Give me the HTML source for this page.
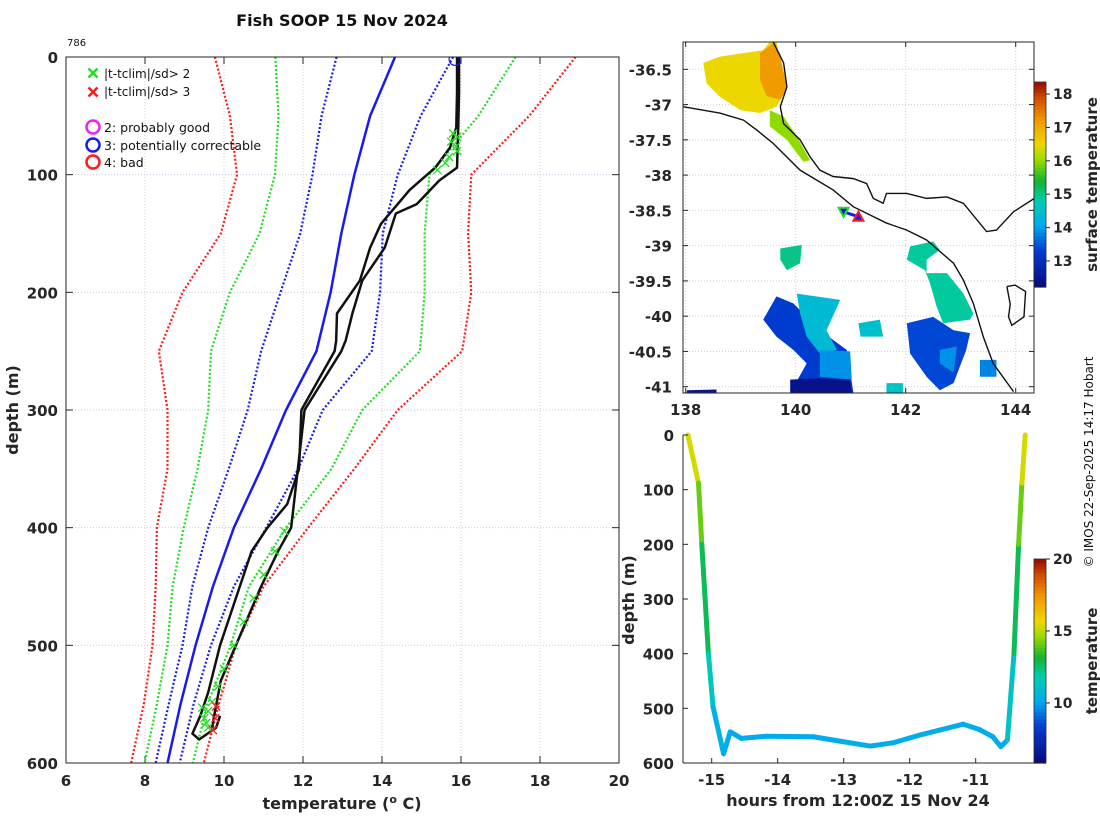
<!DOCTYPE html>
<html><head><meta charset="utf-8"><style>
html,body{margin:0;padding:0;background:#fff;}
svg{display:block;font-family:"DejaVu Sans","Liberation Sans",sans-serif;}
.tk{font-size:15px;font-weight:bold;fill:#262626;}
</style></head><body>
<svg id="fig" width="1100" height="820" viewBox="0 0 1100 820" xmlns="http://www.w3.org/2000/svg">
<defs>
<clipPath id="cpMain"><rect x="66" y="57" width="553" height="706"/></clipPath>
<clipPath id="cpMap"><rect x="683" y="42" width="351" height="351"/></clipPath>
</defs>
<g id="main"></g>
<g id="map"></g>
<g id="tim"></g>
<text x="342" y="26" text-anchor="middle" style="font-size:16px;font-weight:bold" fill="#111">Fish SOOP 15 Nov 2024</text>
<text x="67" y="46" style="font-size:10px" fill="#111">786</text>
<text transform="translate(18,410) rotate(-90)" text-anchor="middle" class="tk" style="font-size:16px">depth (m)</text>
<text x="342" y="809" text-anchor="middle" class="tk" style="font-size:16px">temperature (<tspan dy="-6" style="font-size:11px">o</tspan><tspan dy="6"> C)</tspan></text>
<text transform="translate(1093,462) rotate(-90)" text-anchor="middle" style="font-size:12px" fill="#111">© IMOS 22-Sep-2025 14:17 Hobart</text>
</svg>
<script>
// ===== main profile chart data =====
const climDepths=[0,50,100,150,200,250,300,350,400,450,500,550,600];
const climMean  =[14.33,13.7,13.3,12.97,12.7,12.34,11.57,10.94,10.25,9.72,9.28,8.9,8.57];
const clim1Lo   =[12.85,12.47,12.24,11.93,11.43,10.94,10.6,10.12,9.6,9.2,8.95,8.6,8.27];
const clim1Hi   =[15.8,14.98,14.4,14.02,13.95,13.74,12.5,11.88,11.07,10.25,9.67,9.23,8.88];
const clim2Lo   =[11.3,11.38,11.29,10.9,10.15,9.67,9.6,9.33,8.98,8.7,8.57,8.3,7.99];
const clim2Hi   =[17.38,16.44,15.2,15.08,15.08,14.96,13.5,12.72,11.57,10.63,10.17,9.58,9.21];
const clim3Lo   =[9.77,10.15,10.33,9.92,8.95,8.35,8.57,8.57,8.3,8.27,8.19,7.97,7.65];
const clim3Hi   =[18.9,17.73,16.26,16.18,16.26,16.03,14.4,13.3,12.13,11.0,10.3,9.87,9.49];
const castADepth=[0,30,60,77,94,113,142,162,190,218,241,250,300,350,380,400,420,450,500,540,560,575,580,570,560];
const castATemp =[15.9,15.9,15.88,15.72,15.35,14.7,13.97,13.7,13.44,12.86,12.84,12.8,11.96,11.9,11.6,11.1,10.7,10.4,9.9,9.6,9.4,9.2,9.37,9.8,9.9];
const castBDepth=[0,30,60,94,105,125,133,162,190,218,241,250,300,350,400,420,450,500,530,560,570];
const castBTemp =[15.95,15.95,15.93,15.9,15.45,14.88,14.35,14.07,13.5,13.25,13.08,12.97,12.04,11.87,11.7,11.37,10.94,10.3,9.92,9.75,9.7];
const flag2Depth=[65,68,72,76,80,85,90,96,403,420,440,460,480,500,520,535,548,556,562,566,570,553];
const flag2Temp =[15.8,15.9,15.75,15.88,15.9,15.7,15.6,15.4,11.53,11.29,11.0,10.75,10.5,10.25,10.0,9.85,9.7,9.6,9.5,9.55,9.6,9.45];
const flag3Depth=[552,562,572];
const flag3Temp =[9.8,9.78,9.72];
const xTicks=[6,8,10,12,14,16,18,20];
const yTicks=[0,100,200,300,400,500,600];

// ===== map data =====
const lonTicks=[138,140,142,144];
const latTicks=[-36.5,-37,-37.5,-38,-38.5,-39,-39.5,-40,-40.5,-41];
const shelfLon=[137.95,138.62,139.05,139.29,139.59,140.08,140.68,141.05,141.65,142.02,142.38,142.87,143.05,143.23,143.41,143.59,143.96];
const shelfLat=[-37.03,-37.12,-37.22,-37.36,-37.55,-37.93,-38.21,-38.45,-38.68,-38.78,-38.92,-39.25,-39.49,-39.82,-40.29,-40.67,-41.07];
const coastLon=[139.59,139.78,139.84,139.72,139.78,140.08,140.26,140.44,140.68,141.05,141.29,141.41,141.59,141.65,142.02,142.38,142.75,143.05,143.47,143.65,143.96,144.34];
const coastLat=[-36.11,-36.41,-36.75,-37.03,-37.27,-37.5,-37.74,-37.93,-38.02,-38.05,-38.12,-38.33,-38.4,-38.26,-38.26,-38.33,-38.31,-38.4,-38.8,-38.78,-38.52,-38.33];
const islandLon=[143.84,143.99,144.18,144.15,143.93,143.87,143.9,143.84];
const islandLat=[-39.58,-39.56,-39.65,-40.01,-40.13,-40.01,-39.83,-39.58];
const patchTemps=[16.5,16.0,17.2,13.3,14.4,13.9,12.4,12.5,14.9,13.4,13.9,14.5,15.0,14.6,13.8];
const patchLons=[
 [138.32,138.62,139.41,139.53,139.65,139.84,139.65,139.35,139.0,138.62,138.38],
 [139.53,139.78,140.02,140.26,140.14,139.84,139.53],
 [139.35,139.59,139.72,139.84,139.72,139.47,139.35],
 [139.41,139.65,139.96,140.2,140.44,140.93,141.05,139.9,140.2,139.96,139.65],
 [140.02,140.81,140.56,140.75,140.44,140.2,140.08],
 [140.44,140.99,141.02,140.44],
 [139.9,140.44,140.99,141.02,139.9],
 [138.02,138.56,138.56,138.02],
 [142.08,142.5,142.62,142.38,142.38,142.75,143.05,143.23,143.17,142.68,142.56,142.44,142.35,142.02],
 [142.02,142.5,142.87,143.17,143.1,142.87,142.62,142.38,142.08],
 [142.62,142.93,142.87,142.62],
 [141.14,141.53,141.59,141.18],
 [139.72,140.11,140.08,139.84,139.72],
 [141.65,141.95,141.95,141.65],
 [143.35,143.65,143.65,143.35]];
const patchLats=[
 [-36.41,-36.32,-36.23,-36.11,-36.11,-36.79,-37.03,-37.12,-37.08,-36.89,-36.7],
 [-37.08,-37.17,-37.45,-37.79,-37.81,-37.5,-37.31],
 [-36.27,-36.13,-36.32,-36.75,-36.93,-36.88,-36.65],
 [-40.05,-39.72,-39.82,-40.01,-40.2,-40.48,-41.09,-41.09,-40.67,-40.48,-40.29],
 [-39.68,-39.77,-40.2,-40.48,-40.53,-40.29,-39.96],
 [-40.48,-40.5,-40.9,-40.86],
 [-40.9,-40.88,-40.9,-41.09,-41.09],
 [-41.05,-41.04,-41.09,-41.09],
 [-39.01,-38.94,-39.06,-39.2,-39.39,-39.39,-39.68,-39.96,-40.05,-40.1,-39.86,-39.53,-39.35,-39.2],
 [-40.1,-40.01,-40.2,-40.24,-40.48,-40.95,-41.05,-40.86,-40.53],
 [-40.48,-40.43,-40.8,-40.67],
 [-40.1,-40.05,-40.29,-40.29],
 [-39.04,-38.99,-39.25,-39.35,-39.2],
 [-40.95,-40.95,-41.09,-41.09],
 [-40.62,-40.62,-40.86,-40.86]];
const startLon=140.87, startLat=-38.52, endLon=141.14, endLat=-38.59;
const sstTicks=[13,14,15,16,17,18];

// ===== depth-time chart data =====
const timeHours=[-15.36,-15.2,-15.15,-15.05,-14.98,-14.82,-14.72,-14.55,-14.17,-13.46,-13.06,-12.6,-12.25,-11.85,-11.19,-10.94,-10.74,-10.62,-10.52,-10.42,-10.35,-10.3,-10.25];
const timeDepth=[0,88,200,400,497,583,543,555,551,552,560,569,563,549,529,539,552,570,558,400,200,88,0];
const timeTemp =[15.8,15.0,13.2,12.4,10.6,10.2,10.2,10.2,10.2,10.2,10.2,10.2,10.2,10.2,10.2,10.2,10.2,10.2,10.2,12.4,13.2,15.0,15.8];
const hourTicks=[-15,-14,-13,-12,-11];
const depthTicks2=[0,100,200,300,400,500,600];
const tempTicks2=[10,15,20];

const NS='http://www.w3.org/2000/svg';
function mk(parent,tag,attrs){const e=document.createElementNS(NS,tag);for(const k in attrs)e.setAttribute(k,attrs[k]);parent.appendChild(e);return e;}
const stops=[[0,[10,10,125]],[0.18,[0,60,210]],[0.3,[0,170,240]],[0.42,[0,205,180]],[0.52,[20,180,50]],[0.62,[150,220,0]],[0.7,[240,215,0]],[0.82,[240,150,0]],[0.92,[210,80,0]],[1,[150,10,0]]];
function cmap(v){v=Math.max(0,Math.min(1,v));for(let i=1;i<stops.length;i++){if(v<=stops[i][0]){const a=stops[i-1],b=stops[i];const f=(v-a[0])/(b[0]-a[0]);const c=a[1].map((x,j)=>Math.round(x+(b[1][j]-x)*f));return `rgb(${c[0]},${c[1]},${c[2]})`;}}return 'rgb(150,10,0)';}

// ===== main chart =====
const main=document.getElementById('main');
const MX0=66,MX1=619,MY0=57,MY1=763;
const xS=t=>MX0+(t-6)*(MX1-MX0)/14;
const yS=d=>MY0+d*(MY1-MY0)/600;
xTicks.forEach((t,i)=>{
 if(i>0&&i<xTicks.length-1){const g=mk(main,'line',{x1:xS(t),x2:xS(t),y1:MY0,y2:MY1,stroke:i%2?'#e8c8c0':'#c8cce6','stroke-width':1,'stroke-dasharray':'1,2'});
 }
 const tk=mk(main,'line',{x1:xS(t),x2:xS(t),y1:MY0,y2:MY0+7,stroke:'#262626'});
 const tk2=mk(main,'line',{x1:xS(t),x2:xS(t),y1:MY1,y2:MY1-7,stroke:'#262626'});
 const l=mk(main,'text',{x:xS(t),y:MY1+23,'text-anchor':'middle',class:'tk'});l.textContent=t;
 
});
yTicks.forEach((d,i)=>{
 if(i>0&&i<yTicks.length-1){const g=mk(main,'line',{x1:MX0,x2:MX1,y1:yS(d),y2:yS(d),stroke:'#c8cce6','stroke-width':1,'stroke-dasharray':'1,2'});
 }
 const tk=mk(main,'line',{x1:MX0,x2:MX0+7,y1:yS(d),y2:yS(d),stroke:'#262626'});
 const tk2=mk(main,'line',{x1:MX1,x2:MX1-7,y1:yS(d),y2:yS(d),stroke:'#262626'});
 const l=mk(main,'text',{x:MX0-8,y:yS(d)+6,'text-anchor':'end',class:'tk'});l.textContent=d;
 
});
const plotG=mk(main,'g',{'clip-path':'url(#cpMain)'});

function line(arrT,arrD,color,w,dash,name){
 const p=mk(plotG,'polyline',{points:arrT.map((t,i)=>xS(t)+','+yS(arrD[i])).join(' '),fill:'none',stroke:color,'stroke-width':w,'stroke-linejoin':'round'});
 if(dash)p.setAttribute('stroke-dasharray',dash);
 
}
line(clim3Lo,climDepths,'#ff1a1a',2.2,'2,2','clim-minus-3sd');
line(clim3Hi,climDepths,'#ff1a1a',2.2,'2,2','clim-plus-3sd');
line(clim2Lo,climDepths,'#22dd22',2.2,'2,2','clim-minus-2sd');
line(clim2Hi,climDepths,'#22dd22',2.2,'2,2','clim-plus-2sd');
line(clim1Lo,climDepths,'#1a1aee',2.2,'2,2','clim-minus-1sd');
line(clim1Hi,climDepths,'#1a1aee',2.2,'2,2','clim-plus-1sd');
line(climMean,climDepths,'#1a1aee',2.5,null,'clim-mean');
line(castATemp,castADepth,'#111',2.5,null,'profile-cast-a');
line(castBTemp,castBDepth,'#111',2.5,null,'profile-cast-b');
function cross(g,cx,cy,s,color,w,name){
 const p=mk(g,'path',{d:`M${cx-s},${cy-s}L${cx+s},${cy+s}M${cx-s},${cy+s}L${cx+s},${cy-s}`,stroke:color,'stroke-width':w,fill:'none'});
 
}
flag2Temp.forEach((t,i)=>cross(plotG,xS(t),yS(flag2Depth[i]),4,'#22dd22',1.3,'flag-2sd-marker'));
flag3Temp.forEach((t,i)=>cross(plotG,xS(t),yS(flag3Depth[i]),4,'#ff1a1a',1.3,'flag-3sd-marker'));
const qc=mk(plotG,'circle',{cx:xS(15.85),cy:yS(2),r:6,fill:'none',stroke:'#1a1aee','stroke-width':1.2});

const fr=mk(main,'rect',{x:MX0,y:MY0,width:MX1-MX0,height:MY1-MY0,fill:'none',stroke:'#262626','stroke-width':1});

// legend
const lg=mk(main,'g',{});
cross(lg,93,73,4.5,'#22dd22',2.5,'legend-2sd-symbol');
cross(lg,93,92,4.5,'#ff1a1a',2.5,'legend-3sd-symbol');
[['|t-tclim|/sd> 2',78],['|t-tclim|/sd> 3',96]].forEach(a=>{const t=mk(lg,'text',{x:104,y:a[1],style:'font-size:12px',fill:'#111'});t.textContent=a[0];});
[['#ee22ee','2: probably good',127],['#1a1aee','3: potentially correctable',145],['#ff1a1a','4: bad',162]].forEach(a=>{
 const c=mk(lg,'circle',{cx:93,cy:a[2],r:6.5,fill:'none',stroke:a[0],'stroke-width':2.5});
 const t=mk(lg,'text',{x:104,y:a[2]+5,style:'font-size:12.5px',fill:'#111'});t.textContent=a[1];
});

// ===== map =====
const map=document.getElementById('map');
const AX0=683,AX1=1034,AY0=42,AY1=393;
const lonS=l=>685.7+(l-138)*55;
const latS=l=>69.3+(-36.5-l)*70.53;
const mg=mk(map,'g',{'clip-path':'url(#cpMap)'});

lonTicks.forEach(l=>{const g=mk(mg,'line',{x1:lonS(l),x2:lonS(l),y1:AY0,y2:AY1,stroke:'#c8cce6','stroke-dasharray':'1,2'});});
latTicks.forEach(l=>{const g=mk(mg,'line',{x1:AX0,x2:AX1,y1:latS(l),y2:latS(l),stroke:'#c8cce6','stroke-dasharray':'1,2'});});
const SST0=12.22,SST1=18.36;
patchLons.forEach((lons,i)=>{
 const p=mk(mg,'polygon',{points:lons.map((l,j)=>lonS(l)+','+latS(patchLats[i][j])).join(' '),fill:cmap((patchTemps[i]-SST0)/(SST1-SST0)),stroke:'none'});
 
});
[[shelfLon,shelfLat,'shelf-contour'],[coastLon,coastLat,'coastline'],[islandLon,islandLat,'king-island-coast']].forEach(a=>{
 const p=mk(mg,'polyline',{points:a[0].map((l,j)=>lonS(l)+','+latS(a[1][j])).join(' '),fill:'none',stroke:'#111','stroke-width':1.4});
 
});
const tr=mk(mg,'line',{x1:lonS(startLon),y1:latS(startLat),x2:lonS(endLon),y2:latS(endLat),stroke:'#1a1aee','stroke-width':3});

{const x=lonS(startLon),y=latS(startLat);const p=mk(mg,'polygon',{points:`${x-5},${y-4} ${x+5},${y-4} ${x},${y+5}`,fill:'#1a1aee',stroke:'#22dd22','stroke-width':2});}
{const x=lonS(endLon),y=latS(endLat);const p=mk(mg,'polygon',{points:`${x-5},${y+4} ${x+5},${y+4} ${x},${y-5}`,fill:'#1a1aee',stroke:'#ff1a1a','stroke-width':2});}
const mf=mk(map,'rect',{x:AX0,y:AY0,width:AX1-AX0,height:AY1-AY0,fill:'none',stroke:'#262626'});
lonTicks.forEach(l=>{
 mk(map,'line',{x1:lonS(l),x2:lonS(l),y1:AY1,y2:AY1-5,stroke:'#262626'});mk(map,'line',{x1:lonS(l),x2:lonS(l),y1:AY0,y2:AY0+5,stroke:'#262626'});
 const t=mk(map,'text',{x:lonS(l),y:AY1+22,'text-anchor':'middle',class:'tk'});t.textContent=l;
});
latTicks.forEach(l=>{
 mk(map,'line',{x1:AX0,x2:AX0+5,y1:latS(l),y2:latS(l),stroke:'#262626'});mk(map,'line',{x1:AX1,x2:AX1-5,y1:latS(l),y2:latS(l),stroke:'#262626'});
 const t=mk(map,'text',{x:AX0-11,y:latS(l)+6,'text-anchor':'end',class:'tk'});t.textContent=l;
});
function colorbar(g,x,y0,y1,v0,v1,ticks,label,name){
 const n=60,h=(y1-y0)/n;
 for(let i=0;i<n;i++){const r=mk(g,'rect',{x:x,y:y1-(i+1)*h,width:12,height:h+0.6,fill:cmap((i+0.5)/n)});}
 const f=mk(g,'rect',{x:x,y:y0,width:12,height:y1-y0,fill:'none',stroke:'#262626','stroke-width':0.8});
 ticks.forEach(t=>{const yy=y1-(t-v0)/(v1-v0)*(y1-y0);mk(g,'line',{x1:x+12,x2:x+16,y1:yy,y2:yy,stroke:'#262626'});
  const tx=mk(g,'text',{x:x+19,y:yy+5,class:'tk',style:'font-size:14px'});tx.textContent=t;});
 const lt=mk(g,'text',{transform:`translate(${x+63},${(y0+y1)/2}) rotate(-90)`,'text-anchor':'middle',class:'tk',style:'font-size:15px'});lt.textContent=label;
}
colorbar(map,1034,82,287,SST0,SST1,sstTicks,'surface temperature','sst-colorbar');

// ===== depth-time chart =====
const tim=document.getElementById('tim');
const BX0=683,BX1=1034,BY0=435,BY1=763;
const hS=h=>711.7+(h+15)*66;
const dS=d=>BY0+d*(BY1-BY0)/600;
const T0=5.83,T1=20;
for(let i=0;i<timeHours.length-1;i++){
 const s=mk(tim,'line',{x1:hS(timeHours[i]),y1:dS(timeDepth[i]),x2:hS(timeHours[i+1]),y2:dS(timeDepth[i+1]),stroke:cmap(((timeTemp[i]+timeTemp[i+1])/2-T0)/(T1-T0)),'stroke-width':5,'stroke-linecap':'round'});
 
}
mk(tim,'line',{x1:BX0,x2:BX0,y1:BY0,y2:BY1,stroke:'#262626'});
const ax=mk(tim,'line',{x1:BX0,x2:BX1,y1:BY1,y2:BY1,stroke:'#262626'});
hourTicks.forEach(h=>{mk(tim,'line',{x1:hS(h),x2:hS(h),y1:BY1,y2:BY1-5,stroke:'#262626'});
 const t=mk(tim,'text',{x:hS(h),y:BY1+22,'text-anchor':'middle',class:'tk'});t.textContent=h;});
depthTicks2.forEach(d=>{mk(tim,'line',{x1:BX0,x2:BX0+5,y1:dS(d),y2:dS(d),stroke:'#262626'});
 const t=mk(tim,'text',{x:BX0-9,y:dS(d)+6,'text-anchor':'end',class:'tk'});t.textContent=d;});
{const t=mk(tim,'text',{transform:'translate(634,600) rotate(-90)','text-anchor':'middle',class:'tk',style:'font-size:16px'});t.textContent='depth (m)';}
{const t=mk(tim,'text',{x:858,y:806,'text-anchor':'middle',class:'tk',style:'font-size:16px'});t.textContent='hours from 12:00Z 15 Nov 24';}
colorbar(tim,1034,559,763,T0,T1,tempTicks2,'temperature','temperature-colorbar');
</script>
</body></html>
